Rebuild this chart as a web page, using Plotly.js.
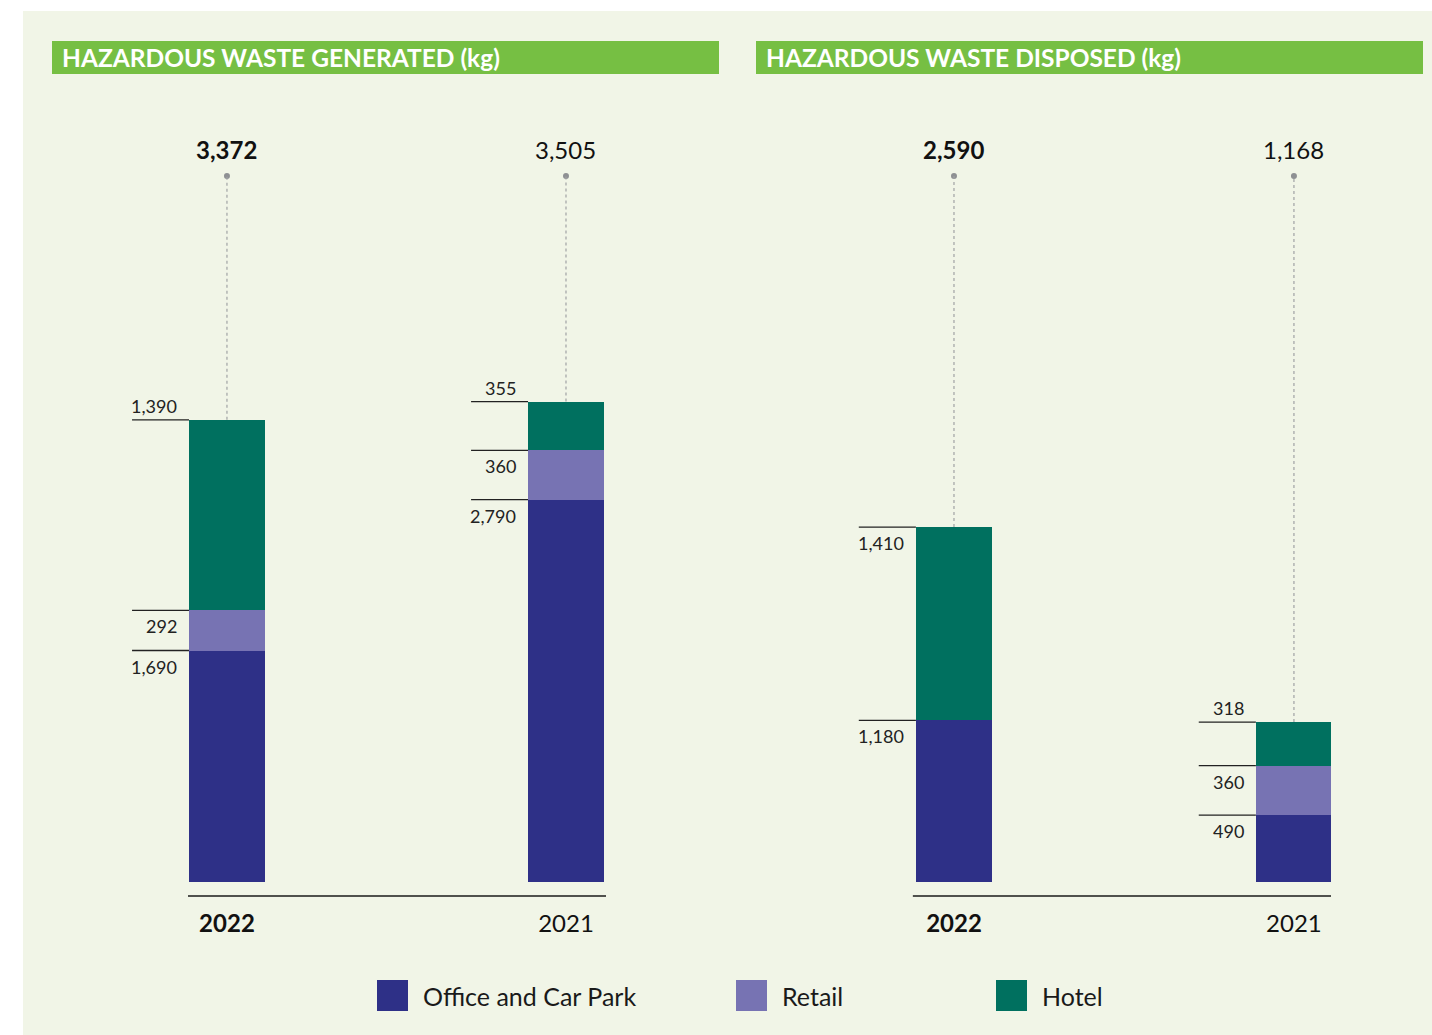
<!DOCTYPE html>
<html>
<head>
<meta charset="utf-8">
<script src="https://cdn.plot.ly/plotly-3.0.1.min.js"></script>
<style>
  html, body { margin: 0; padding: 0; background: #ffffff; }
  #chart { width: 1432px; height: 1035px; }
</style>
</head>
<body>
<div id="chart"></div>
<script>
// Hazardous waste by property type, kg
const years = ["2022", "2021"];
const seriesNames = ["Office and Car Park", "Retail", "Hotel"];

const generatedOffice = [1690, 2790];
const generatedRetail = [292, 360];
const generatedHotel = [1390, 355];
const generatedTotal = [3372, 3505];

const disposedOffice = [1180, 490];
const disposedRetail = [0, 360];
const disposedHotel = [1410, 318];
const disposedTotal = [2590, 1168];

const panelTitles = ["HAZARDOUS WASTE GENERATED (kg)", "HAZARDOUS WASTE DISPOSED (kg)"];

// styling
const colors = ["#2E3087", "#7773B3", "#00705F"];
const W = 1432, H = 1035;
const px = v => v / W;
const py = v => 1 - v / H;
const FONT = "Lato, 'Open Sans', sans-serif";
const Y_RANGE = [-100, 5150];
const BAR_W = 0.224;       // bar width in category units
const TICK_LEN = 0.168;    // length of the segment marker line in category units

const panels = [
  { xa: "x", ya: "y", series: [generatedOffice, generatedRetail, generatedHotel], totals: generatedTotal,
    hotelAbove: [true, true], base: [-0.115, 1.118] },
  { xa: "x2", ya: "y2", series: [disposedOffice, disposedRetail, disposedHotel], totals: disposedTotal,
    hotelAbove: [false, true], base: [-0.121, 1.109] }
];

const traces = [];
const shapes = [];
const annotations = [];

// panel background
shapes.push({ type: "rect", xref: "paper", yref: "paper", x0: px(23), x1: 1, y0: 0, y1: py(11),
  fillcolor: "#F1F5E7", line: { width: 0 }, layer: "below" });

// green title strips
const stripX = [[52, 719], [756, 1423]];
stripX.forEach((sx, i) => {
  shapes.push({ type: "rect", xref: "paper", yref: "paper", x0: px(sx[0]), x1: px(sx[1]),
    y0: py(74), y1: py(41), fillcolor: "#76BF43", line: { width: 0 }, layer: "below" });
  annotations.push({ xref: "paper", yref: "paper", x: px(sx[0] + 8), y: py(58), xanchor: "left", yanchor: "middle",
    text: "<b>" + panelTitles[i] + "</b>", showarrow: false, font: { family: FONT, size: 24.5, color: "#ffffff" } });
});

panels.forEach((p, pi) => {
  p.series.forEach((vals, si) => {
    traces.push({
      type: "bar", x: years, y: vals, name: seriesNames[si], xaxis: p.xa, yaxis: p.ya,
      marker: { color: colors[si], line: { width: 0 } }, width: BAR_W,
      showlegend: false, hoverinfo: "name+y"
    });
  });

  // dots at the top of the leaders
  traces.push({
    type: "scatter", mode: "markers", x: years, y: years.map(() => Y_RANGE[1]),
    xaxis: p.xa, yaxis: p.ya, marker: { color: "#8E9093", size: 6 },
    cliponaxis: false, showlegend: false, hoverinfo: "skip"
  });

  // baseline under the bars
  shapes.push({ type: "line", xref: p.xa, yref: "paper", x0: p.base[0], x1: p.base[1],
    y0: py(896), y1: py(896), line: { color: "#1a1a1a", width: 1.6 } });

  years.forEach((yr, yi) => {
    // segment marker lines and value labels
    let cum = 0;
    p.series.forEach((vals, si) => {
      const v = vals[yi];
      if (!v) return;
      cum += v;
      const left = yi - BAR_W / 2;
      shapes.push({ type: "line", xref: p.xa, yref: p.ya,
        x0: left - TICK_LEN, x1: left, y0: cum, y1: cum, line: { color: "#222222", width: 1.3 } });
      const above = si === 2 && p.hotelAbove[yi];
      annotations.push({ xref: p.xa, yref: p.ya, x: yi, y: cum, xanchor: "right",
        yanchor: above ? "bottom" : "top", xshift: -48, yshift: above ? 1 : -3,
        text: v.toLocaleString("en-US"), showarrow: false,
        font: { family: FONT, size: 18, color: "#222222" } });
    });

    // totals with dotted leader
    const t = p.totals[yi];
    shapes.push({ type: "line", xref: p.xa, yref: p.ya, x0: yi, x1: yi, y0: t, y1: Y_RANGE[1],
      line: { color: "#A0A2A4", width: 1.2, dash: "dot" } });
    annotations.push({ xref: p.xa, yref: "paper", x: yi, y: py(150), xanchor: "center", yanchor: "middle",
      text: yi === 0 ? "<b>" + t.toLocaleString("en-US") + "</b>" : t.toLocaleString("en-US"),
      showarrow: false, font: { family: FONT, size: 24, color: "#111111" } });
  });
});

// legend
const legendX = [377, 736, 996];
seriesNames.forEach((n, i) => {
  shapes.push({ type: "rect", xref: "paper", yref: "paper", x0: px(legendX[i]), x1: px(legendX[i] + 31),
    y0: py(1011), y1: py(980), fillcolor: colors[i], line: { width: 0 } });
  annotations.push({ xref: "paper", yref: "paper", x: px(legendX[i] + 44), y: py(996), xanchor: "left",
    yanchor: "middle", text: n, showarrow: false, font: { family: FONT, size: 25, color: "#1a1a1a" } });
});

const xAxisBase = {
  type: "category", showgrid: false, zeroline: false,
  showline: false, ticks: "", fixedrange: true,
  tickmode: "array", tickvals: years, ticktext: ["<b>2022</b>", "2021"],
  tickfont: { family: FONT, size: 24, color: "#111111" }, ticklabelstandoff: 11
};
const yAxisBase = {
  range: Y_RANGE, showgrid: false, zeroline: false, showline: false, showticklabels: false,
  ticks: "", fixedrange: true, domain: [py(896), py(176)]
};

const layout = {
  width: W, height: H,
  margin: { l: 0, r: 0, t: 0, b: 0 },
  paper_bgcolor: "#ffffff", plot_bgcolor: "rgba(0,0,0,0)",
  barmode: "stack", showlegend: false,
  xaxis: Object.assign({}, xAxisBase, { domain: [px(74.4), px(606)], range: [-0.45, 1.118], anchor: "y" }),
  yaxis: Object.assign({}, yAxisBase, { anchor: "x" }),
  xaxis2: Object.assign({}, xAxisBase, { domain: [px(801), px(1331)], range: [-0.45, 1.109], anchor: "y2" }),
  yaxis2: Object.assign({}, yAxisBase, { anchor: "x2" }),
  shapes: shapes, annotations: annotations,
  font: { family: FONT }
};

Plotly.newPlot("chart", traces, layout, { displayModeBar: false, staticPlot: true });
</script>
</body>
</html>
